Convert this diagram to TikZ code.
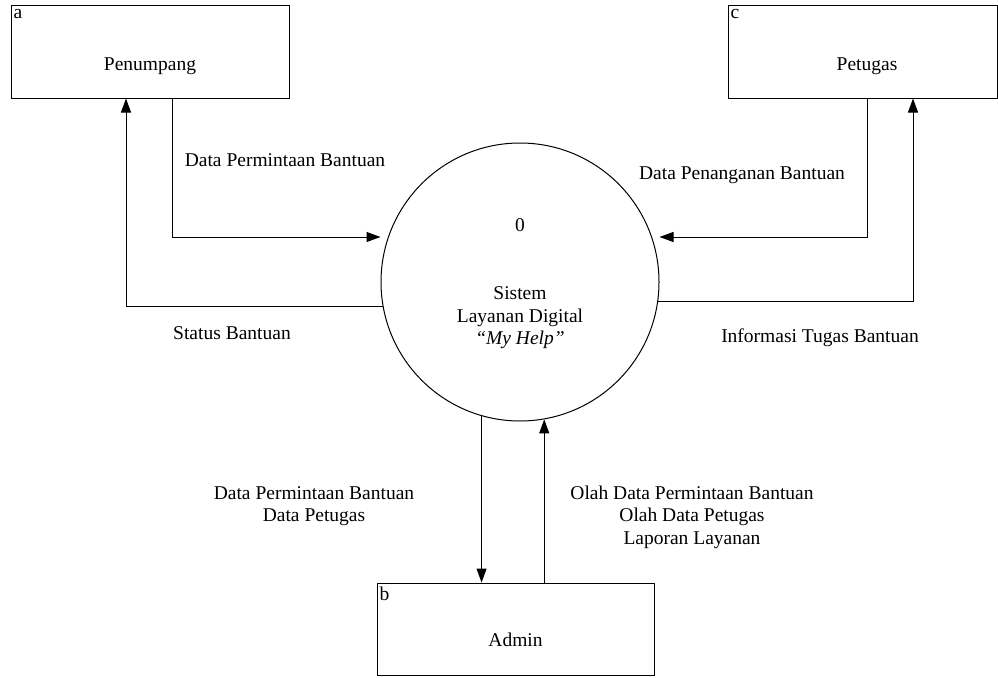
\documentclass[tikz,border=0pt]{standalone}
\usepackage{fontspec}
\setmainfont{Liberation Serif}
\usetikzlibrary{arrows.meta}
\begin{document}
\begin{tikzpicture}[x=1pt,y=-1pt,
  font=\fontsize{19.5}{22.5}\selectfont,
  entity/.style={draw,line width=1pt,minimum width=278pt,minimum height=92pt,inner sep=0pt},
  flow/.style={line width=1pt,-{Triangle[length=14pt,width=10pt]}},
  tag/.style={anchor=north west,inner xsep=3pt,inner ysep=4pt}]
\useasboundingbox (0,0) rectangle (998,677);
% entitas luar
\node[entity] (pen) at (150,52) {};
\node[tag] (pena) at (pen.north west) {a};
\node (penlbl) at (150,66) {Penumpang};
\node[entity,minimum width=269pt] (ptg) at (862.5,52) {};
\node[tag] (ptgc) at (ptg.north west) {c};
\node (ptglbl) at (867,66) {Petugas};
\node[entity,minimum width=277pt] (adm) at (515.5,629) {};
\node[tag] (admb) at (adm.north west) {b};
\node (admlbl) at (515.5,640) {Admin};
% proses
\node[draw,circle,line width=1pt,minimum size=278pt,inner sep=0pt] (sys) at (520,282) {};
\node (sysno) at (520,225) {0};
\node[align=center] (sysname) at (520,318) {Sistem\\Layanan Digital\\\textit{“My Help”}};
% aliran data
\draw[flow] ([xshift=22pt]pen.south) |- ([yshift=45pt]sys.west);
\draw[flow] (sys.190) -| ([xshift=-24pt]pen.south);
\draw[flow] ([xshift=4.5pt]ptg.south) |- ([yshift=45pt]sys.east);
\draw[flow] (sys.352) -| ([xshift=50.5pt]ptg.south);
\draw[flow] (sys.254) -- (sys.254 |- adm.north);
\draw[flow] (sys.280 |- adm.north) -- (sys.280);
\node (f1) at (285,160) {Data Permintaan Bantuan};
\node (f2) at (232,333) {Status Bantuan};
\node (f3) at (742,175) {Data Penanganan Bantuan};
\node (f4) at (820,338) {Informasi Tugas Bantuan};
\node[align=center] (f5) at (314,506) {Data Permintaan Bantuan\\Data Petugas};
\node[align=center] (f6) at (692,517) {Olah Data Permintaan Bantuan\\Olah Data Petugas\\Laporan Layanan};
\end{tikzpicture}
\end{document}
